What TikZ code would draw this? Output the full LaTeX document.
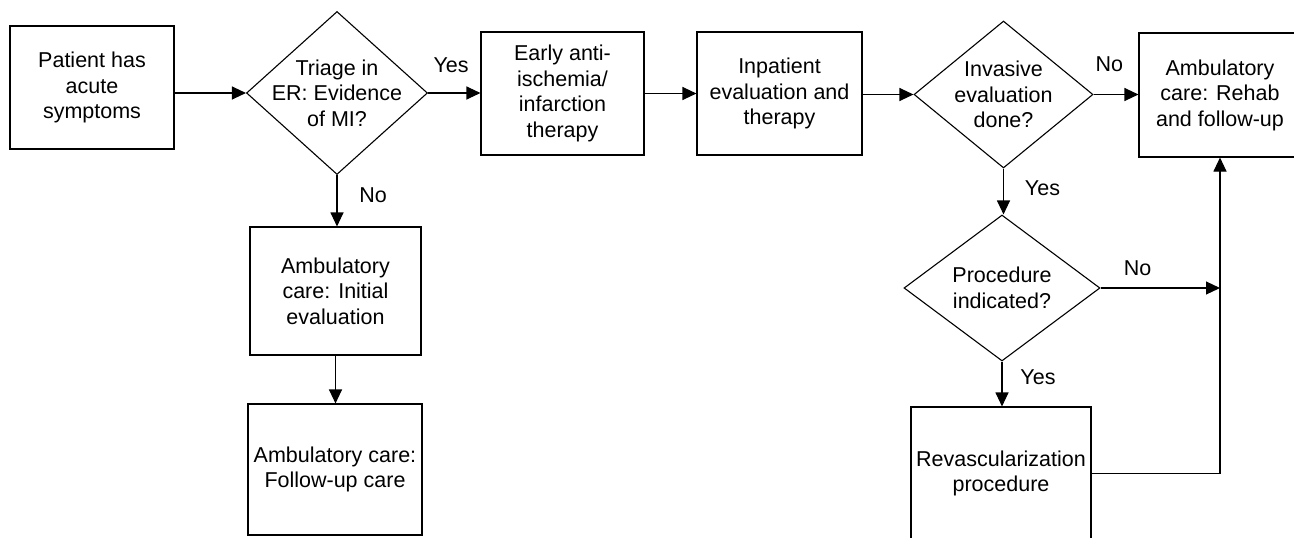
\documentclass[tikz,border=0pt]{standalone}
\usepackage{fontspec}
\setmainfont{Liberation Sans}
\usetikzlibrary{shapes.geometric,arrows.meta}
\begin{document}
\begin{tikzpicture}[x=1pt,y=-1pt,
  txt/.style={font=\fontsize{21.5}{25.5}\selectfont, align=center},
  stepbox/.style={draw, line width=1.1pt, inner sep=0pt, txt},
  decision/.style={draw, shape=diamond, line width=1.1pt, inner sep=0pt},
  conn/.style={line width=1.1pt, -{Triangle[length=14pt,width=13pt]}},
  lbl/.style={txt}]
\useasboundingbox (0,0) rectangle (1294,538);
\clip (0,0) rectangle (1294,538);

\node[stepbox, minimum width=164, minimum height=123] (pat) at (92,87.5) {Patient has\\acute\\symptoms};
\node[decision, minimum width=181, minimum height=163,
  label={[txt]center:{Triage in\\ER: Evidence\\of MI?}}] (tri) at (337,93) {};
\node[stepbox, minimum width=163, minimum height=123] (early) at (562.5,93.5) {Early anti-\\ischemia/\\infarction\\therapy};
\node[stepbox, minimum width=165, minimum height=123] (inp) at (779.5,93.5) {Inpatient\\evaluation and\\therapy};
\node[decision, minimum width=179, minimum height=147,
  label={[txt]center:{Invasive\\evaluation\\done?}}] (inv) at (1003.5,94.5) {};
\node[stepbox, minimum width=162, minimum height=124] (rehab) at (1220,95) {Ambulatory\\care: Rehab\\and follow-up};
\node[stepbox, minimum width=171, minimum height=128] (init) at (335.5,291) {Ambulatory\\care: Initial\\evaluation};
\node[stepbox, minimum width=174, minimum height=131] (fu) at (335,469.5) {Ambulatory care:\\Follow-up care};
\node[decision, minimum width=196, minimum height=146,
  label={[txt]center:{Procedure\\indicated?}}] (proc) at (1002,288) {};
\node[stepbox, minimum width=180, minimum height=133] (rev) at (1001,473.5) {Revascularization\\procedure};

\draw[conn] (pat.east |- tri.west) -- (tri.west);
\draw[conn] (tri.east) -- node[lbl, pos=0.44, yshift=28pt]{Yes} (early.west |- tri.east);
\draw[conn] (early.east) -- (inp.west);
\draw[conn] (inp.east |- inv.west) -- (inv.west);
\draw[conn] (inv.east) -- node[lbl, pos=0.35, yshift=30pt]{No} (rehab.west |- inv.east);
\draw[conn] (tri.south) -- node[lbl, pos=0.4, xshift=36pt]{No} (tri.south |- init.north);
\draw[conn] (init.south) -- (init.south |- fu.north);
\draw[conn] (inv.south) -- node[lbl, pos=0.43, xshift=39pt]{Yes} (inv.south |- proc.north);
\coordinate (join) at (proc.east -| rehab.south);
\draw[conn] (proc.east) -- node[lbl, pos=0.31, yshift=20pt]{No} (join);
\draw[conn] (proc.south) -- node[lbl, pos=0.35, xshift=36pt]{Yes} (proc.south |- rev.north);
\draw[conn] (rev.east) -| (rehab.south);
\end{tikzpicture}
\end{document}
